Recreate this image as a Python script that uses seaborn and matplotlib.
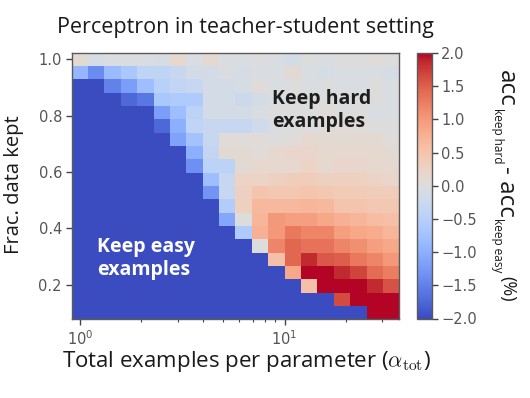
import numpy as np
import pandas as pd
import matplotlib
matplotlib.use("Agg")
import matplotlib.pyplot as plt
import seaborn as sns
from matplotlib.ticker import LogLocator, NullFormatter, FixedLocator

# ---------------- data ----------------
alpha_tot = [1.0, 1.2, 1.45, 1.74, 2.09, 2.51, 3.02, 3.63, 4.37, 5.25,
             6.31, 7.59, 9.12, 10.96, 13.18, 15.85, 19.05, 22.91, 27.54, 33.11]
frac_kept = [1.0, 0.953, 0.905, 0.858, 0.811, 0.763, 0.716, 0.668, 0.621, 0.574,
             0.526, 0.479, 0.432, 0.384, 0.337, 0.289, 0.242, 0.195, 0.147, 0.1]

# accuracy difference (keep hard - keep easy, %), one list per fraction kept (top row first)
diff_f1000 = [0.1, -0.1, -0.05, -0.05, -0.05, -0.1, 0.15, -0.05, 0.12, -0.05, -0.05, 0.0, -0.05, -0.15, 0.0, -0.05, 0.0, 0.0, 0.05, 0.0]
diff_f0953 = [-0.9, -1.4, -0.85, -0.65, -0.4, -0.4, -0.3, -0.15, -0.15, -0.05, -0.1, -0.05, -0.05, 0.1, -0.05, -0.1, -0.05, -0.05, -0.05, -0.1]
diff_f0905 = [-2.0, -2.0, -1.5, -1.2, -0.8, -0.5, -0.35, -0.3, -0.15, -0.15, -0.1, 0.05, -0.05, 0.0, -0.05, 0.0, -0.05, -0.05, 0.0, -0.05]
diff_f0858 = [-2.0, -2.0, -2.0, -1.75, -1.6, -0.65, -0.6, -0.6, -0.15, -0.15, -0.25, -0.15, -0.05, 0.0, 0.0, 0.0, -0.05, 0.0, 0.0, -0.05]
diff_f0811 = [-2.0, -2.0, -2.0, -2.0, -2.0, -1.2, -0.8, -0.45, -0.15, -0.15, -0.15, -0.05, 0.0, 0.0, 0.0, 0.05, 0.0, 0.0, -0.05, -0.05]
diff_f0763 = [-2.0, -2.0, -2.0, -2.0, -2.0, -1.75, -1.0, -0.4, -0.3, -0.3, -0.3, -0.2, -0.05, 0.0, 0.0, 0.05, 0.05, 0.05, 0.0, 0.0]
diff_f0716 = [-2.0, -2.0, -2.0, -2.0, -2.0, -2.0, -1.15, -0.75, -0.3, 0.05, 0.05, 0.05, 0.0, 0.05, 0.15, 0.1, 0.1, 0.1, 0.1, 0.05]
diff_f0668 = [-2.0, -2.0, -2.0, -2.0, -2.0, -2.0, -2.0, -1.0, -0.35, 0.1, 0.1, 0.05, 0.15, 0.2, 0.2, 0.15, 0.15, 0.15, 0.15, 0.1]
diff_f0621 = [-2.0, -2.0, -2.0, -2.0, -2.0, -2.0, -2.0, -1.35, -0.45, -0.45, 0.1, 0.15, 0.15, 0.15, 0.25, 0.15, 0.2, 0.2, 0.15, 0.15]
diff_f0574 = [-2.0, -2.0, -2.0, -2.0, -2.0, -2.0, -2.0, -2.0, -0.8, -0.3, 0.25, 0.25, 0.3, 0.35, 0.35, 0.3, 0.3, 0.3, 0.25, 0.2]
diff_f0526 = [-2.0, -2.0, -2.0, -2.0, -2.0, -2.0, -2.0, -2.0, -1.3, -0.3, 0.3, 0.5, 0.45, 0.45, 0.5, 0.45, 0.4, 0.4, 0.35, 0.35]
diff_f0479 = [-2.0, -2.0, -2.0, -2.0, -2.0, -2.0, -2.0, -2.0, -2.0, -0.55, 0.3, 0.65, 0.65, 0.65, 0.7, 0.65, 0.5, 0.5, 0.45, 0.45]
diff_f0432 = [-2.0, -2.0, -2.0, -2.0, -2.0, -2.0, -2.0, -2.0, -2.0, -1.1, 0.0, 0.7, 1.0, 0.95, 0.95, 0.85, 0.75, 0.7, 0.6, 0.55]
diff_f0384 = [-2.0, -2.0, -2.0, -2.0, -2.0, -2.0, -2.0, -2.0, -2.0, -2.0, -0.6, 0.75, 1.0, 1.3, 1.2, 1.2, 0.95, 0.85, 0.8, 0.7]
diff_f0337 = [-2.0, -2.0, -2.0, -2.0, -2.0, -2.0, -2.0, -2.0, -2.0, -2.0, -2.0, 0.0, 1.2, 1.45, 1.35, 1.35, 1.2, 1.1, 0.95, 0.85]
diff_f0289 = [-2.0, -2.0, -2.0, -2.0, -2.0, -2.0, -2.0, -2.0, -2.0, -2.0, -2.0, -2.0, 0.55, 1.45, 1.85, 1.55, 1.5, 1.3, 1.2, 1.0]
diff_f0242 = [-2.0, -2.0, -2.0, -2.0, -2.0, -2.0, -2.0, -2.0, -2.0, -2.0, -2.0, -2.0, -2.0, 0.85, 2.0, 2.0, 1.85, 1.7, 1.4, 1.25]
diff_f0195 = [-2.0, -2.0, -2.0, -2.0, -2.0, -2.0, -2.0, -2.0, -2.0, -2.0, -2.0, -2.0, -2.0, -2.0, 0.55, 2.0, 2.0, 2.0, 1.85, 1.6]
diff_f0147 = [-2.0, -2.0, -2.0, -2.0, -2.0, -2.0, -2.0, -2.0, -2.0, -2.0, -2.0, -2.0, -2.0, -2.0, -2.0, -2.0, 1.65, 2.0, 2.0, 2.0]
diff_f0100 = [-2.0, -2.0, -2.0, -2.0, -2.0, -2.0, -2.0, -2.0, -2.0, -2.0, -2.0, -2.0, -2.0, -2.0, -2.0, -2.0, -2.0, -2.0, 2.0, 2.0]

cbar_ticks = [-2.0, -1.5, -1.0, -0.5, 0.0, 0.5, 1.0, 1.5, 2.0]
y_ticks = [0.2, 0.4, 0.6, 0.8, 1.0]

rows = [diff_f1000, diff_f0953, diff_f0905, diff_f0858, diff_f0811, diff_f0763,
        diff_f0716, diff_f0668, diff_f0621, diff_f0574, diff_f0526, diff_f0479,
        diff_f0432, diff_f0384, diff_f0337, diff_f0289, diff_f0242, diff_f0195,
        diff_f0147, diff_f0100]
df = pd.DataFrame(rows, index=frac_kept, columns=alpha_tot).sort_index()

# ---------------- style ----------------
sns.set_theme(style="ticks")
TXT = "Open Sans"
plt.rcParams["font.family"] = [TXT, "DejaVu Sans"]
plt.rcParams["mathtext.fontset"] = "custom"
plt.rcParams["mathtext.rm"] = TXT
plt.rcParams["mathtext.it"] = TXT + ":italic"
plt.rcParams["mathtext.bf"] = TXT + ":bold"

W, H = 530, 398
fig = plt.figure(figsize=(W / 100, H / 100), dpi=100)
ax = fig.add_axes([71.7 / W, 1 - 319.3 / H, (399.3 - 71.7) / W, (319.3 - 52.7) / H])
cax = fig.add_axes([417 / W, 1 - 318.5 / H, 14.5 / W, (318.5 - 53.0) / H])

cmap = sns.color_palette("coolwarm", as_cmap=True)

# cell edges: geometric midpoints in x (log axis), arithmetic in y
lx = np.log10(df.columns.values.astype(float))
xe = np.concatenate([[lx[0] - (lx[1] - lx[0]) / 2], (lx[:-1] + lx[1:]) / 2, [lx[-1] + (lx[-1] - lx[-2]) / 2]])
xe = 10 ** xe
yv = df.index.values.astype(float)
ye = np.concatenate([[yv[0] - (yv[1] - yv[0]) / 2], (yv[:-1] + yv[1:]) / 2, [yv[-1] + (yv[-1] - yv[-2]) / 2]])

mesh = ax.pcolormesh(xe, ye, df.values, cmap=cmap, vmin=-2, vmax=2, shading="flat",
                     edgecolors="face", linewidth=0)
ax.set_xscale("log")
ax.set_xlim(xe[0], xe[-1])
ax.set_ylim(ye[0], ye[-1])
ax.yaxis.set_major_locator(FixedLocator(y_ticks))
ax.set_yticklabels([f"{v:.1f}" for v in y_ticks], family="DejaVu Sans")
ax.xaxis.set_major_locator(LogLocator(base=10))
ax.xaxis.set_minor_locator(LogLocator(base=10, subs=np.arange(2, 10)))
ax.xaxis.set_minor_formatter(NullFormatter())
for lab in ax.get_xticklabels():
    lab.set_family("DejaVu Sans")

spine_c = "#5a5a5a"
for s in ax.spines.values():
    s.set_visible(True)
    s.set_color(spine_c)
    s.set_linewidth(1.0)
ax.tick_params(which="major", length=4, width=1, color="#444444", labelcolor="#555555",
               labelsize=10.5, pad=3)
ax.tick_params(which="minor", length=2.5, width=0.8, color="#444444")

cb = fig.colorbar(mesh, cax=cax, ticks=cbar_ticks)
cb.outline.set_edgecolor(spine_c)
cb.outline.set_linewidth(1.0)
cax.tick_params(length=4, width=1, color="#444444", labelcolor="#555555", labelsize=10.5, pad=3)
for lab in cax.get_yticklabels():
    lab.set_family("DejaVu Sans")

# labels
ax.set_xlabel(r"Total examples per parameter ($\alpha_{\rm tot}$)", fontsize=16,
              color="#1a1a1a", math_fontfamily="cm")
ax.xaxis.set_label_coords((246.5 - 71.7) / 327.6, (319.3 - 349) / 266.6)
ax.set_ylabel("Frac. data kept", fontsize=14.5, color="#1a1a1a")
ax.yaxis.set_label_coords((24 - 71.7) / 327.6, (319.3 - 185) / 266.6)
fig.text(245 / W, 1 - 28 / H, "Perceptron in teacher-student setting", fontsize=15.5,
         color="#1a1a1a", ha="center", va="center")

ax.text((272 - 71.7) / 327.6, (319.3 - 110.5) / 266.6, "Keep hard\nexamples",
        transform=ax.transAxes, ha="left", va="center", fontsize=14, fontweight="bold",
        color="#1e1e1e", linespacing=1.2)
ax.text((97 - 71.7) / 327.6, (319.3 - 258.5) / 266.6, "Keep easy\nexamples",
        transform=ax.transAxes, ha="left", va="center", fontsize=14, fontweight="bold",
        color="white", linespacing=1.2)

# colorbar label built from pieces, rotated 270 (reads top to bottom)
renderer = fig.canvas.get_renderer()
pieces = [("acc", 17.5, 0.0, 0.0), ("keep hard", 8.5, -6.0, 1.0), ("- acc", 17.5, 0.0, 3.0),
          ("keep easy", 8.5, -6.0, 1.0), ("(%)", 13, 2.0, 4.0)]
base_x, cur_y = 500.0, 70.0
for txt, size, dx, gap in pieces:
    cur_y += gap
    t = fig.text(0, 0, txt, fontsize=size)
    w = t.get_window_extent(renderer).width
    t.remove()
    fig.text((base_x + dx) / W, 1 - cur_y / H, txt, fontsize=size, rotation=270,
             rotation_mode="anchor", ha="left", va="baseline", color="#1a1a1a")
    cur_y += w

fig.savefig("out.png", dpi=100)
